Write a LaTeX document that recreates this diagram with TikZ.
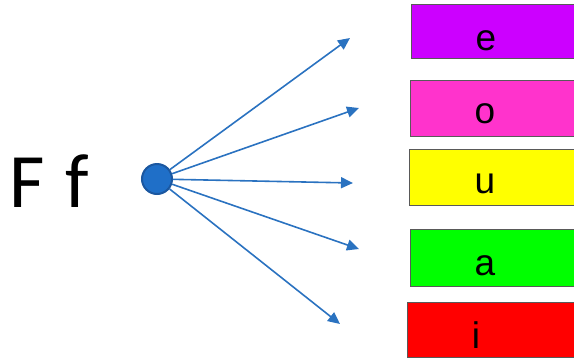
\documentclass[tikz,border=0pt]{standalone}
\usepackage{fontspec}
\usepackage{tikz}
\usetikzlibrary{arrows.meta}
\newfontfamily\letterfont{Carlito}
\newfontfamily\boxfont{Liberation Sans}
\definecolor{dotblue}{HTML}{1F6FC8}
\definecolor{dotedge}{HTML}{1B57A0}
\definecolor{arrblue}{HTML}{2A72C0}
\definecolor{vowelE}{HTML}{CC00FF}
\definecolor{vowelO}{HTML}{FF33CC}
\definecolor{vowelU}{HTML}{FFFF00}
\definecolor{vowelA}{HTML}{00FF00}
\definecolor{vowelI}{HTML}{FF0000}

\begin{document}
\begin{tikzpicture}[x=1pt,y=-1pt,
    vowelbox/.style={draw=black!65,line width=0.8pt},
    vowel/.style={anchor=base,inner sep=0pt,font=\boxfont\fontsize{37}{40}\selectfont},
    spoke/.style={arrblue,line width=1.6pt,-{Triangle[length=12pt,width=11pt]}}]
  \useasboundingbox (0,0) rectangle (574,360);
  \clip (0,0) rectangle (574,360);
  % the letter pair and the dot it starts from
  \node[anchor=base west,inner sep=0pt,font=\letterfont\fontsize{77}{80}\selectfont] (letter) at (9,207) {F\hspace{4pt} f};
  \node[circle,fill=dotblue,draw=dotedge,line width=2pt,minimum size=30pt,inner sep=0pt] (dot) at (157,179) {};
  % vowel boxes, running off the right edge
  \fill[vowelbox,fill=vowelE] (411,4) rectangle (600,58);
  \fill[vowelbox,fill=vowelO] (410,80) rectangle (600,136);
  \fill[vowelbox,fill=vowelU] (409,149) rectangle (600,205);
  \fill[vowelbox,fill=vowelA] (410,229) rectangle (600,286);
  \fill[vowelbox,fill=vowelI] (407,302) rectangle (600,357);
  \draw[vowelbox] (411,4) rectangle (600,58);
  \draw[vowelbox] (410,80) rectangle (600,136);
  \draw[vowelbox] (409,149) rectangle (600,205);
  \draw[vowelbox] (410,229) rectangle (600,286);
  \draw[vowelbox] (407,302) rectangle (600,357);
  \node[vowel] (e) at (486,50) {e};
  \node[vowel] (o) at (485,123) {o};
  \node[vowel] (u) at (485,193) {u};
  \node[vowel] (a) at (485,275) {a};
  \node[vowel] (i) at (476,348) {i};
  % arrow tips
  \coordinate (tipE) at (350,38);
  \coordinate (tipO) at (359,108);
  \coordinate (tipU) at (353,183);
  \coordinate (tipA) at (359,249);
  \coordinate (tipI) at (340,324);
  \foreach \t in {tipE,tipO,tipU,tipA,tipI}
    \draw[spoke] (dot) -- (\t);
\end{tikzpicture}
\end{document}
